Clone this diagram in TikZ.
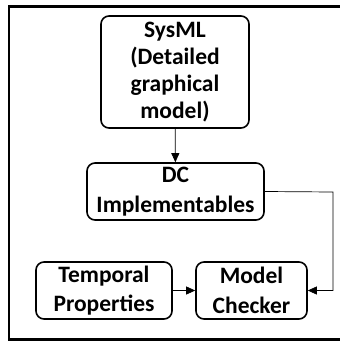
\documentclass[tikz,border=0pt]{standalone}
\usepackage{fontspec}
\setmainfont{Carlito}
\usetikzlibrary{arrows.meta,positioning}

\begin{document}
\begin{tikzpicture}[x=1pt,y=-1pt,
  stage/.style={draw,line width=1.6pt,rounded corners=8pt,align=center,
    font=\bfseries\fontsize{23.5}{27}\selectfont,inner sep=0pt},
  pair/.style={stage,minimum height=57pt,font=\bfseries\fontsize{23.5}{29.5}\selectfont},
  flow/.style={draw,line width=0.7pt,-{Triangle[length=9pt,width=8pt]}}]
\useasboundingbox (0,0) rectangle (340,341);
\draw[line width=2.2pt] (345,6.5) -- (9,6.5) -- (9,339.5) -- (345,339.5);
\node[stage,minimum width=148pt,minimum height=112pt] (sysml) at (175,72)
  {SysML\\(Detailed\\graphical\\model)};
\node[pair,minimum width=177pt] (dc) at (175.5,191.5) {DC\\Implementables};
\node[pair,minimum width=136pt] (temp) at (104,290.5) {Temporal\\Properties};
\node[pair,minimum width=111pt] (mc) at (251.5,290.5) {Model\\Checker};
\coordinate (turn) at (333,192);
\draw[flow] (sysml) -- (dc);
\draw[flow] (temp) -- (mc);
\draw[flow] (dc.east) -- (turn) |- (mc.east);
\end{tikzpicture}
\end{document}
